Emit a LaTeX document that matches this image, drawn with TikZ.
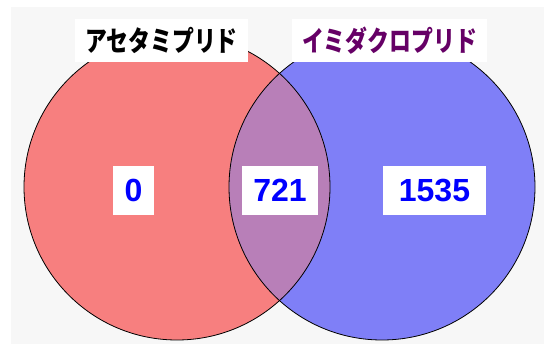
\documentclass[tikz,border=0pt]{standalone}
\usepackage{fontspec}
\setmainfont{Liberation Sans}
\newfontfamily\jpfont{Noto Sans CJK JP}
\usetikzlibrary{backgrounds}
\definecolor{bgc}{HTML}{F7F7F7}
\definecolor{redc}{HTML}{F77F7F}
\definecolor{bluec}{HTML}{7F7FF7}
\definecolor{purpc}{HTML}{B87FB8}
\definecolor{labpurp}{HTML}{660066}
\definecolor{numblue}{HTML}{0000FF}
\tikzset{
  setcircle/.style={circle, minimum size=306pt, inner sep=0pt},
  outline/.style={draw=black, line width=0.8pt},
  titlebox/.style={fill=white, inner sep=0pt, minimum height=43pt, font=\jpfont\bfseries\fontsize{28}{30}\selectfont},
  numbox/.style={fill=white, inner sep=0pt, minimum height=49pt, text=numblue, font=\bfseries\fontsize{32}{34}\selectfont}
}
\begin{document}
\begin{tikzpicture}[x=1pt,y=-1pt]
\fill[white] (0,0) rectangle (544,345);
\fill[bgc] (11,7) rectangle (544,344);
\useasboundingbox (0,0) rectangle (544,345);
% fills
\fill[redc] (177,187) circle (153pt);
\fill[bluec] (382,187) circle (153pt);
\begin{scope}
  \clip (177,187) circle (153pt);
  \fill[purpc] (382,187) circle (153pt);
\end{scope}
% outlines
\node[setcircle, outline] (A) at (177,187) {};
\node[setcircle, outline] (B) at (382,187) {};
% titles
\node[titlebox, minimum width=173pt] (tA) at (161.5,40.5) {\scalebox{0.78}[1]{アセタミプリド}};
\node[titlebox, minimum width=195pt, text=labpurp] (tB) at (389.5,40.5) {\scalebox{0.78}[1]{イミダクロプリド}};
% numbers
\node[numbox, minimum width=41pt] (n0) at (133.5,190.5) {0};
\node[numbox, minimum width=76pt] (n721) at (280,190.5) {721};
\node[numbox, minimum width=103pt] (n1535) at (434.5,190.5) {1535};
\end{tikzpicture}
\end{document}
